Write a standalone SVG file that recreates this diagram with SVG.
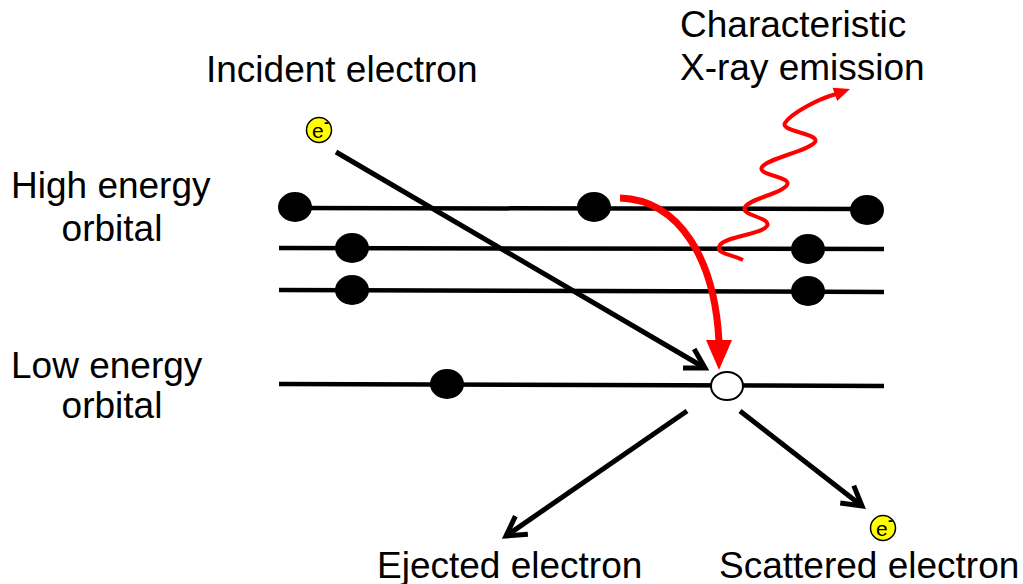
<svg xmlns="http://www.w3.org/2000/svg" width="1023" height="584" viewBox="0 0 1023 584">
<style>
.lbl{font-family:"Liberation Sans",Arial,sans-serif;font-size:37px;fill:#000}
.orb{stroke:#000;stroke-width:4.5;fill:none}
.dot{fill:#000}
.arr{stroke:#000;stroke-width:5;fill:none}
.el{fill:#ffff00;stroke:#000;stroke-width:1.5}
.et{font-family:"Liberation Sans",Arial,sans-serif;font-size:21px;fill:#000}
.es{font-family:"Liberation Sans",Arial,sans-serif;font-size:15px;font-weight:bold;fill:#000}
</style>
<defs>
<marker id="chev" markerUnits="userSpaceOnUse" viewBox="-26 -16 32 32" markerWidth="32" markerHeight="32" refX="0" refY="0" orient="auto">
<path d="M-19,-11 L0,0 L-19,11" fill="none" stroke="#000" stroke-width="5" stroke-linejoin="miter"/>
</marker>
</defs>
<rect width="1023" height="584" fill="#fff"/>
<g id="labels">
<text class="lbl" x="206" y="82">Incident electron</text>
<text class="lbl" x="680" y="37">Characteristic</text>
<text class="lbl" x="680" y="80">X-ray emission</text>
<text class="lbl" x="11" y="198">High energy</text>
<text class="lbl" x="112" y="241" text-anchor="middle">orbital</text>
<text class="lbl" x="11" y="378">Low energy</text>
<text class="lbl" x="112" y="418" text-anchor="middle">orbital</text>
<text class="lbl" x="377" y="578">Ejected electron</text>
<text class="lbl" x="719" y="578">Scattered electron</text>
</g>
<g id="orbitals">
<line class="orb" x1="295" y1="208" x2="866" y2="209"/>
<line class="orb" x1="279" y1="248" x2="884" y2="249"/>
<line class="orb" x1="279" y1="290" x2="884" y2="292"/>
<line class="orb" x1="279" y1="384" x2="884" y2="386"/>
</g>
<g id="electrons">
<ellipse class="dot" cx="295" cy="207" rx="17" ry="15"/>
<ellipse class="dot" cx="594" cy="207" rx="17" ry="15"/>
<ellipse class="dot" cx="867" cy="210" rx="17" ry="15"/>
<ellipse class="dot" cx="352" cy="248" rx="17" ry="15"/>
<ellipse class="dot" cx="808" cy="249" rx="17" ry="15"/>
<ellipse class="dot" cx="352" cy="290" rx="17" ry="15"/>
<ellipse class="dot" cx="808" cy="291" rx="17" ry="15"/>
<ellipse class="dot" cx="447" cy="384" rx="17" ry="15"/>
</g>
<g id="vacancy">
<ellipse cx="727" cy="386" rx="16" ry="14" fill="#fff" stroke="#000" stroke-width="2"/>
</g>
<g id="incident-e">
<circle class="el" cx="319" cy="130" r="12.5"/>
<text class="et" x="312" y="138">e</text>
<text class="es" x="324" y="127">-</text>
</g>
<g id="scattered-e">
<circle class="el" cx="883" cy="528" r="12.5"/>
<text class="et" x="876" y="536">e</text>
<text class="es" x="888" y="525">-</text>
</g>
<g id="connectors">
<line class="arr" x1="336" y1="152" x2="705" y2="368" marker-end="url(#chev)"/>
<line class="arr" x1="687" y1="411" x2="506" y2="536" marker-end="url(#chev)"/>
<line class="arr" x1="740" y1="411" x2="862" y2="506" marker-end="url(#chev)"/>
<path d="M620,198 C680,200 715,260 719,342" fill="none" stroke="#ff0000" stroke-width="7"/>
<polygon points="706,340 732,340 719,370" fill="#ff0000"/>
<path d="M743,260 C728,253 714.7,253.5 720,245 C725,236.5 761.7,234.5 767,226 C772.3,217.5 739.7,215.5 745,207 C750.3,198.5 781.7,193.5 787,185 C792.3,176.5 756.7,175.5 762,167 C767.3,158.5 809.7,150.5 815,142 C820.3,133.5 779.7,131.5 785,123 C790.3,114.5 815,100 836,94" fill="none" stroke="#ff0000" stroke-width="4"/>
<polygon points="850,89 837.2,100.9 832.6,87.7" fill="#ff0000"/>
</g>
</svg>
